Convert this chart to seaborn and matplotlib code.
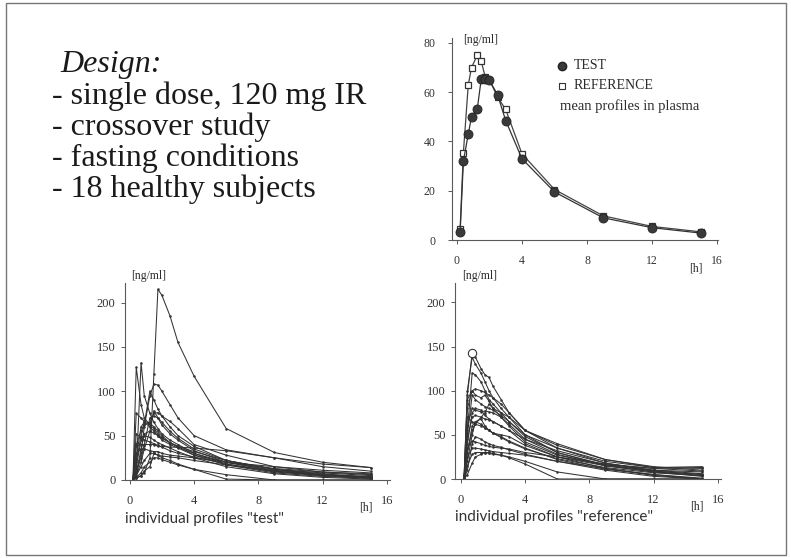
import numpy as np
import pandas as pd
import matplotlib
matplotlib.use("Agg")
import matplotlib.pyplot as plt
from matplotlib.patches import Rectangle
import seaborn as sns

# ---- data -------------------------------------------------------------
# sampling times [h]
times = [0.2, 0.4, 0.7, 0.9, 1.25, 1.5, 1.75, 2.0, 2.5, 3.0, 4.0, 6.0, 9.0, 12.0, 15.0]

# mean plasma profiles [ng/ml]
mean_test = [3.2, 32, 43, 50, 53, 65.5, 65.2, 64.8, 59, 48.5, 33, 19.5, 9.0, 5.0, 2.8]
mean_reference = [4.5, 35.5, 63, 70, 75, 72.5, 66, 65, 58, 53, 35, 20.5, 9.8, 5.5, 3.3]

# individual profiles, 18 subjects each [ng/ml]
individual_test = [
    [0, 2, 5, 8, 25, 120, 215, 208, 185, 155, 117, 58, 31, 20, 14],
    [0, 5, 30, 60, 95, 108, 107, 100, 85, 70, 50, 34, 25, 18, 14],
    [3, 127, 85, 70, 62, 58, 52, 48, 42, 38, 32, 22, 12, 8, 5],
    [2, 10, 132, 95, 75, 65, 58, 52, 45, 40, 30, 18, 10, 6, 3],
    [0, 75, 70, 66, 64, 60, 55, 50, 42, 37, 30, 20, 11, 6, 4],
    [1, 40, 55, 63, 100, 90, 80, 72, 60, 50, 38, 22, 12, 7, 3],
    [0, 20, 50, 62, 65, 75, 76, 72, 66, 58, 40, 28, 15, 9, 6],
    [0, 38, 40, 40, 40, 40, 38, 38, 37, 37, 36, 33, 25, 15, 10],
    [0, 8, 35, 52, 55, 53, 50, 47, 42, 38, 28, 17, 8, 4, 2],
    [2, 30, 35, 35, 33, 32, 32, 30, 28, 27, 25, 20, 15, 11, 8],
    [0, 5, 15, 22, 30, 30, 28, 27, 26, 25, 22, 17, 10, 5, 3],
    [0, 3, 8, 15, 20, 25, 25, 23, 20, 17, 12, 1, 0, 0, 0],
    [0, 15, 45, 50, 48, 45, 42, 40, 36, 32, 25, 15, 7, 3, 1],
    [0, 52, 48, 45, 43, 41, 39, 37, 33, 30, 26, 18, 9, 5, 2],
    [0, 10, 25, 40, 70, 72, 70, 65, 55, 47, 35, 22, 12, 6, 3],
    [0, 2, 5, 10, 15, 30, 28, 25, 22, 18, 12, 6, 0, 0, 0],
    [0, 25, 60, 65, 60, 55, 50, 45, 40, 36, 28, 20, 13, 9, 7],
    [0, 5, 20, 35, 55, 78, 70, 62, 52, 45, 33, 20, 10, 5, 2],
]
individual_reference = [
    [5, 95, 143, 138, 125, 118, 115, 105, 90, 75, 55, 38, 22, 14, 10],
    [3, 100, 138, 130, 120, 110, 100, 92, 80, 70, 50, 30, 15, 8, 4],
    [2, 90, 100, 95, 92, 95, 88, 80, 75, 70, 55, 40, 22, 13, 12],
    [0, 60, 80, 78, 76, 77, 76, 75, 70, 62, 45, 28, 15, 8, 3],
    [0, 40, 75, 80, 78, 72, 68, 65, 60, 55, 40, 25, 12, 5, 0],
    [0, 30, 55, 62, 70, 75, 85, 80, 70, 60, 42, 27, 16, 12, 13],
    [0, 20, 50, 65, 68, 60, 55, 52, 50, 48, 38, 25, 15, 10, 8],
    [0, 70, 65, 62, 60, 58, 55, 52, 48, 43, 35, 22, 11, 5, 1],
    [0, 35, 43, 42, 40, 38, 37, 36, 35, 34, 30, 25, 17, 12, 9],
    [0, 25, 35, 35, 34, 33, 32, 31, 30, 29, 27, 20, 12, 4, 0],
    [0, 15, 28, 30, 30, 30, 29, 28, 27, 25, 20, 8, 0, 0, 0],
    [0, 5, 18, 25, 28, 30, 30, 29, 27, 24, 17, 0, 0, 0, 0],
    [2, 50, 95, 90, 85, 82, 80, 78, 72, 65, 50, 35, 20, 13, 14],
    [0, 45, 70, 72, 70, 68, 67, 65, 60, 55, 45, 32, 18, 9, 5],
    [0, 80, 100, 102, 100, 98, 95, 92, 85, 75, 55, 35, 18, 10, 6],
    [0, 10, 40, 48, 45, 42, 40, 38, 36, 33, 28, 20, 10, 3, 0],
    [0, 30, 60, 65, 62, 58, 55, 52, 47, 42, 34, 23, 13, 7, 4],
    [0, 55, 120, 118, 110, 100, 90, 85, 75, 65, 48, 30, 16, 9, 5],
]

x_ticks = [0, 4, 8, 12, 16]
mean_y_ticks = [0, 20, 40, 60, 80]
indiv_y_ticks = [0, 50, 100, 150, 200]

design_lines = [
    "- single dose, 120 mg IR",
    "- crossover study",
    "- fasting conditions",
    "- 18 healthy subjects",
]

# ---- style ------------------------------------------------------------
sns.set_theme(style="white")
plt.rcParams["font.family"] = ["Liberation Serif", "DejaVu Serif"]
INK = "#2b2b2b"
AXIS = "#5a5a5a"

W, H = 791, 558
fig = plt.figure(figsize=(W / 100, H / 100), dpi=100)
fig.patch.set_facecolor("white")


def px_axes(left, top, right, bottom):
    return fig.add_axes([left / W, 1 - bottom / H, (right - left) / W, (bottom - top) / H])


def style_axes(ax, ypad, size):
    for s in ("top", "right"):
        ax.spines[s].set_visible(False)
    for s in ("left", "bottom"):
        ax.spines[s].set_color(AXIS)
        ax.spines[s].set_linewidth(0.8)
    ax.tick_params(axis="both", which="both", direction="out", length=3, width=0.7,
                   color=AXIS, labelsize=size, labelcolor="#333333")
    ax.tick_params(axis="x", pad=8, bottom=True)
    ax.tick_params(axis="y", pad=ypad, left=True)
    ax.set_xlabel("")
    ax.set_ylabel("")
    ax.set_facecolor("white")


def long_form(profiles):
    rows = []
    for sid, conc in enumerate(profiles):
        for t, c in zip(times, conc):
            rows.append({"subject": sid, "time": t, "conc": c})
    return pd.DataFrame(rows)


# ---- mean profiles ----------------------------------------------------
ax_mean = px_axes(452, 38, 718, 240)
mean_df = pd.DataFrame({"time": times, "TEST": mean_test, "REFERENCE": mean_reference})
sns.lineplot(data=mean_df, x="time", y="REFERENCE", ax=ax_mean, color="#444444",
             lw=0.9, marker="s", markersize=5, markerfacecolor="white",
             markeredgecolor="#333333", markeredgewidth=0.9)
sns.lineplot(data=mean_df, x="time", y="TEST", ax=ax_mean, color="#333333",
             lw=0.9, marker="o", markersize=6.5, markerfacecolor="#3a3a3a",
             markeredgecolor="#222222", markeredgewidth=0.6)
ax_mean.set_xlim(-0.3, 16.05)
ax_mean.set_ylim(0, 82)
ax_mean.set_xticks(x_ticks)
ax_mean.set_yticks(mean_y_ticks)
style_axes(ax_mean, ypad=9, size=8.5)

# legend drawn as marker + text inside the axes
lx, ltx = 6.45, 7.2
ax_mean.plot([lx], [70.7], marker="o", ms=6, mfc="#3a3a3a", mec="#222222", ls="none")
ax_mean.plot([lx], [62.6], marker="s", ms=4.5, mfc="white", mec="#333333", mew=0.8, ls="none")
ax_mean.text(ltx, 70.7, "TEST", fontsize=10, va="center", color=INK)
ax_mean.text(ltx, 62.6, "REFERENCE", fontsize=10, va="center", color=INK)
ax_mean.text(6.35, 54.2, "mean profiles in plasma", fontsize=10.5, va="center", color=INK)
ax_mean.text(0.04, 0.99, "[ng/ml]", transform=ax_mean.transAxes, fontsize=8.5, color=INK,
             ha="left", va="center")
ax_mean.text(14.7, -0.11, "[h]", transform=ax_mean.get_xaxis_transform(), fontsize=8.5,
             color=INK, ha="center", va="top")

# ---- individual profiles ----------------------------------------------
panels = [
    (individual_test, (125, 283, 390, 480), -0.3, 'individual profiles "test"'),
    (individual_reference, (455, 283, 721, 479), -0.37, 'individual profiles "reference"'),
]
for profiles, box, x0, caption in panels:
    ax = px_axes(*box)
    df = long_form(profiles)
    sns.lineplot(data=df, x="time", y="conc", units="subject", estimator=None, ax=ax,
                 color="#333333", lw=0.75, marker="o", markersize=1.8,
                 markeredgewidth=0, legend=False)
    ax.set_xlim(x0, 16.2)
    ax.set_ylim(0, 222)
    ax.set_xticks(x_ticks)
    ax.set_yticks(indiv_y_ticks)
    style_axes(ax, ypad=4, size=9)
    ax.text(0.025, 1.035, "[ng/ml]", transform=ax.transAxes, fontsize=8.5, color=INK,
            ha="left", va="center")
    ax.text(14.7, -0.11, "[h]", transform=ax.get_xaxis_transform(), fontsize=8.5,
            color=INK, ha="center", va="top")
    ax.text(0.0, -0.16, caption, transform=ax.transAxes, fontsize=11,
            family=["Lato", "DejaVu Sans"], color="#333333", ha="left", va="top")

# open circle at the highest reference concentration
ref_arr = np.array(individual_reference)
i, j = np.unravel_index(np.argmax(ref_arr), ref_arr.shape)
ax.plot([times[j]], [ref_arr[i, j]], marker="o", ms=6, mfc="white", mec="#333333",
        mew=0.8, ls="none")

# ---- study design text ------------------------------------------------
fig.text(60 / W, 1 - 72 / H, "Design:", fontsize=23, style="italic", color="#1a1a1a",
         va="baseline", ha="left")
for k, line in enumerate(design_lines):
    fig.text(52 / W, 1 - (104 + 31 * k) / H, line, fontsize=23, color="#1a1a1a",
             va="baseline", ha="left")

# slide frame
fig.add_artist(Rectangle((6 / W, 3 / H), 780 / W, 552 / H, transform=fig.transFigure,
                         fill=False, lw=1.0, ec="#777777"))

fig.savefig("out.png", dpi=100, facecolor="white")
